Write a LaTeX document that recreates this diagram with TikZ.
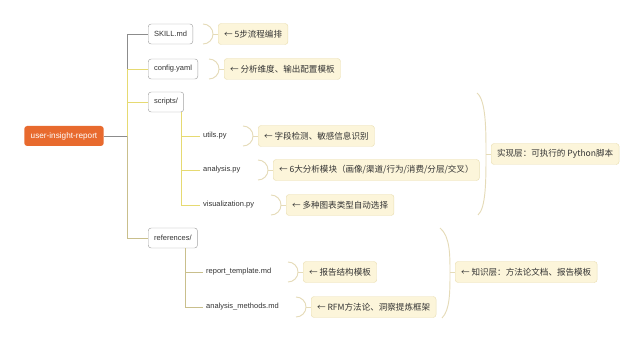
\documentclass[tikz,border=0pt]{standalone}
\usepackage{fontspec}
\setmainfont{Liberation Sans}
\newfontfamily\cjk{Noto Sans CJK SC}
\usepackage{tikz}
\usetikzlibrary{positioning, calc}

\definecolor{rootorange}{HTML}{E86A2E}
\definecolor{boxgray}{HTML}{A3A3A3}
\definecolor{notefill}{HTML}{FCF5DA}
\definecolor{noteline}{HTML}{EADFB4}
\definecolor{linegray}{HTML}{8C8C8C}
\definecolor{lineyellow}{HTML}{E6DA72}
\definecolor{lineolive}{HTML}{C9BF8C}
\definecolor{bracecol}{HTML}{E5DBB8}
\definecolor{txt}{HTML}{333333}

\begin{document}
\begin{tikzpicture}[x=0.03cm, y=-0.03cm,
        rootbox/.style={rectangle, fill=rootorange, text=white, rounded corners=2.5pt, minimum height=0.6cm, inner xsep=5.5pt, font=\fontsize{7}{8}\selectfont},
        filebox/.style={rectangle, draw=boxgray, fill=white, rounded corners=2.5pt, minimum height=0.6cm, inner xsep=5pt, anchor=west, text=txt, font=\fontsize{6.4}{7}\selectfont},
        subfile/.style={rectangle, inner xsep=2.5pt, anchor=west, text=txt, font=\fontsize{6.4}{7}\selectfont},
        notebox/.style={rectangle, draw=noteline, fill=notefill, rounded corners=2.5pt, minimum height=0.63cm, inner xsep=5pt, anchor=west, text=txt, font=\cjk\fontsize{7.3}{8}\selectfont},
        greyline/.style={draw=linegray, line width=0.7pt},
        yellowline/.style={draw=lineyellow, line width=0.7pt},
        oliveline/.style={draw=lineolive, line width=0.7pt},
        brace/.style={draw=bracecol, line width=0.8pt}
    ]
        \useasboundingbox (0,0) rectangle (640,341);

        % root and first level
        \node[rootbox] (root) at (64,136) {user-insight-report};
        \coordinate (trunk) at (127,136);
        \node[filebox] (skill) at (148,34) {SKILL.md};
        \node[filebox] (config) at (148,69) {config.yaml};
        \node[filebox] (scripts) at (148,102) {scripts/};
        \node[filebox] (refs) at (148,238) {references/};

        \draw[greyline] (root.east) -- (trunk) |- (skill.west);
        \draw[yellowline] (trunk) |- (config.west);
        \draw[yellowline] (trunk) |- (scripts.west);
        \draw[oliveline] (trunk) |- (refs.west);

        % second level
        \node[subfile] (utils) at (200,136) {utils.py};
        \node[subfile] (analysis) at (200,170) {analysis.py};
        \node[subfile] (vis) at (200,205) {visualization.py};
        \node[subfile] (rtemp) at (203,272) {report\_template.md};
        \node[subfile] (amethod) at (203,307) {analysis\_methods.md};

        \coordinate (sx) at (181,0);
        \coordinate (rx) at (185,0);
        \draw[yellowline] (scripts.south -| sx) |- (utils.west);
        \draw[yellowline] (scripts.south -| sx) |- (analysis.west);
        \draw[yellowline] (scripts.south -| sx) |- (vis.west);
        \draw[oliveline] (refs.south -| rx) |- (rtemp.west);
        \draw[oliveline] (refs.south -| rx) |- (amethod.west);

        % notes
        \node[notebox] (n1) at (218,34) {← 5步流程编排};
        \node[notebox] (n2) at (224,69) {← 分析维度、输出配置模板};
        \node[notebox] (n3) at (258,136) {← 字段检测、敏感信息识别};
        \node[notebox] (n4) at (273,170) {← 6大分析模块（画像/渠道/行为/消费/分层/交叉）};
        \node[notebox] (n5) at (286,205) {← 多种图表类型自动选择};
        \node[notebox] (n6) at (303,272) {← 报告结构模板};
        \node[notebox] (n7) at (311,307) {← RFM方法论、洞察提炼框架};

        \foreach \n in {n1,n2,n3,n4,n5,n6,n7} {
            \draw[brace] ($(\n.west)+(-15,-10)$) to[out=0, in=90] ($(\n.west)+(-5,0)$)
                to[out=-90, in=0] ($(\n.west)+(-15,10)$);
            \draw[brace] ($(\n.west)+(-5,0)$) -- (\n.west);
        }

        % layer summaries
        \node[notebox] (impl) at (491,154) {实现层：可执行的 Python脚本};
        \node[notebox] (know) at (455,272) {← 知识层：方法论文档、报告模板};

        \draw[brace] (477,93) .. controls (486,100) and (486,130) .. ($(impl.west)+(-5,0)$)
            .. controls (486,180) and (486,208) .. (478,215);
        \draw[brace] ($(impl.west)+(-5,0)$) -- (impl.west);
        \draw[brace] (440,228) .. controls (450,236) and (450,255) .. ($(know.west)+(-5,0)$)
            .. controls (450,292) and (450,310) .. (442,318);
        \draw[brace] ($(know.west)+(-5,0)$) -- (know.west);
\end{tikzpicture}
\end{document}
